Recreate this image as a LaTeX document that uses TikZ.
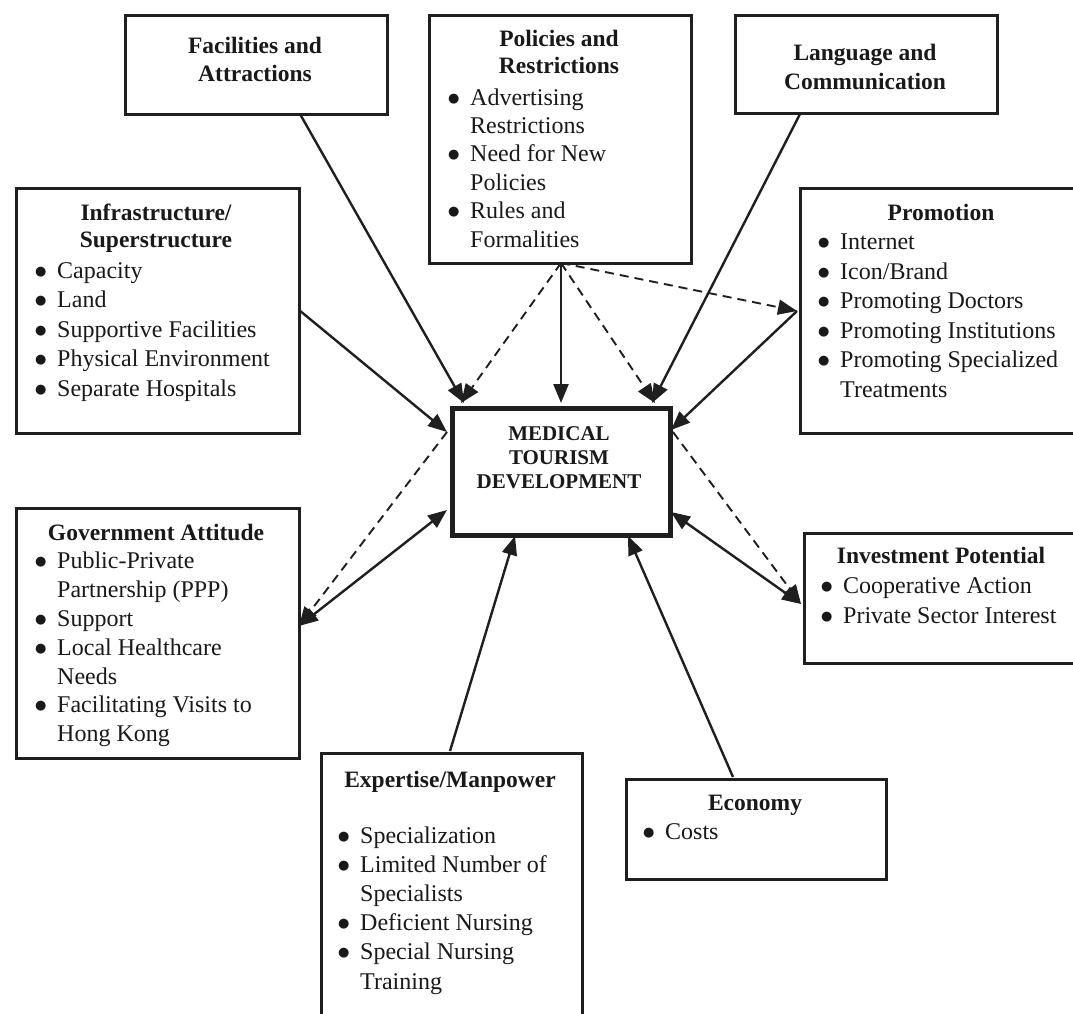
\documentclass[tikz,border=0pt]{standalone}
\usepackage{fontspec}
\setmainfont{Liberation Serif}
\newfontfamily\symf{DejaVu Sans}
\usetikzlibrary{arrows.meta}
\newcommand\bi{\strut\makebox[23pt][l]{\hspace{0.8pt}\raisebox{3pt}{\symf\fontsize{13}{13}\selectfont ●}}}
\newcommand\ci{\strut\hspace*{23pt}}
\begin{document}
\begin{tikzpicture}[x=1pt,y=-1pt,
  box/.style={draw=black!88, line width=2.6pt, inner sep=0pt, anchor=north west},
  ttl/.style={font=\fontsize{23.5}{28}\selectfont\bfseries, align=center, anchor=north, inner sep=0pt, text=black!90},
  lst/.style={font=\fontsize{24}{29.3}\selectfont, align=left, anchor=north west, inner sep=0pt, text=black!90},
  tip/.style={-{Triangle[length=19pt,width=15pt]}},
  conn/.style={line width=2.4pt, draw=black!88, tip},
  dconn/.style={line width=1.9pt, draw=black!88, dash pattern=on 9pt off 6pt, tip},
  both/.style={line width=2.4pt, draw=black!88, {Triangle[length=19pt,width=15pt]}-{Triangle[length=19pt,width=15pt]}},
]
\useasboundingbox (0,0) rectangle (1073,1014);
\clip (0,0) rectangle (1073,1014);
\fill[white] (0,0) rectangle (1073,1014);

% boxes
\node[box, minimum width=262pt, minimum height=99pt] (fac) at (124,14) {};
\node[box, minimum width=262pt, minimum height=248pt] (pol) at (428,14) {};
\node[box, minimum width=262pt, minimum height=98pt] (lang) at (734,14) {};
\node[box, minimum width=283pt, minimum height=245pt] (infra) at (15,187) {};
\node[box, minimum width=284pt, minimum height=245pt] (promo) at (799,187) {};
\node[box, line width=5pt, minimum width=218pt, minimum height=127pt] (mtd) at (450,406) {};
\node[box, minimum width=283pt, minimum height=250pt] (gov) at (15,507) {};
\node[box, minimum width=280pt, minimum height=130pt] (inv) at (803,532) {};
\node[box, minimum width=261pt, minimum height=290pt] (exp) at (320,752) {};
\node[box, minimum width=260pt, minimum height=100pt] (econ) at (625,778) {};

% titles
\node[ttl] (facT) at (255,33.4) {\strut Facilities and\\\strut Attractions};
\node[ttl, font=\fontsize{23.5}{27}\selectfont\bfseries] (polT) at (559,27.6) {\strut Policies and\\\strut Restrictions};
\node[ttl, font=\fontsize{23.5}{29}\selectfont\bfseries] (langT) at (865,40) {\strut Language and\\\strut Communication};
\node[ttl, font=\fontsize{23.5}{27}\selectfont\bfseries] (infraT) at (156,201.6) {\strut Infrastructure/\\\strut Superstructure};
\node[ttl] (promoT) at (941,200.4) {\strut Promotion};
\node[ttl] (govT) at (156,520.4) {\strut Government Attitude};
\node[ttl] (invT) at (941,543.4) {\strut Investment Potential};
\node[ttl] (expT) at (450,767.4) {\strut Expertise/Manpower};
\node[ttl] (econT) at (755,790.4) {\strut Economy};
\node[ttl, font=\fontsize{21}{24}\selectfont\bfseries] (mtdT) at (559,423.2) {\strut MEDICAL\\\strut TOURISM\\\strut DEVELOPMENT};

% lists
\node[lst, font=\fontsize{24}{28.4}\selectfont] (polL) at (447,85) {\bi Advertising\\\ci Restrictions\\\bi Need for New\\\ci Policies\\\bi Rules and\\\ci Formalities};
\node[lst, font=\fontsize{24}{29.5}\selectfont] (infraL) at (34,257.5) {\bi Capacity\\\bi Land\\\bi Supportive Facilities\\\bi Physical Environment\\\bi Separate Hospitals};
\node[lst, font=\fontsize{24}{29.6}\selectfont] (promoL) at (817,228.5) {\bi Internet\\\bi Icon/Brand\\\bi Promoting Doctors\\\bi Promoting Institutions\\\bi Promoting Specialized\\\ci Treatments};
\node[lst, font=\fontsize{24}{28.8}\selectfont] (govL) at (34,548.5) {\bi Public-Private\\\ci Partnership (PPP)\\\bi Support\\\bi Local Healthcare\\\ci Needs\\\bi Facilitating Visits to\\\ci Hong Kong};
\node[lst, font=\fontsize{24}{30}\selectfont] (invL) at (820,572.5) {\bi Cooperative Action\\\bi Private Sector Interest};
\node[lst, font=\fontsize{24}{29.2}\selectfont] (expL) at (337,822.5) {\bi Specialization\\\bi Limited Number of\\\ci Specialists\\\bi Deficient Nursing\\\bi Special Nursing\\\ci Training};
\node[lst] (econL) at (642,818.5) {\bi Costs};

% connector end points
\coordinate (fac-o) at (300,114);
\coordinate (pol-o) at (561,263);
\coordinate (lang-o) at (800,114);
\coordinate (promo-o) at (797,311);
\coordinate (infra-o) at (299,310);
\coordinate (gov-o) at (299,626);
\coordinate (inv-o) at (801,604);
\coordinate (exp-o) at (450,751);
\coordinate (econ-o) at (733,777);
\coordinate (mtd-a) at (464,403);
\coordinate (mtd-b) at (461,403);
\coordinate (mtd-c) at (561,403);
\coordinate (mtd-d) at (655,403);
\coordinate (mtd-e) at (652,403);
\coordinate (mtd-f) at (671,430);
\coordinate (mtd-g) at (447,432);
\coordinate (mtd-h) at (447,510);
\coordinate (mtd-i) at (671,512);
\coordinate (mtd-j) at (673,432);
\coordinate (mtd-k) at (515,536);
\coordinate (mtd-l) at (628,536);

% connectors
\draw[conn] (fac-o) -- (mtd-a);
\draw[conn] (infra-o) -- (mtd-g);
\draw[conn] (pol-o) -- (mtd-c);
\draw[dconn] (pol-o) -- (mtd-b);
\draw[dconn] (pol-o) -- (mtd-d);
\draw[dconn] (pol-o) -- (promo-o);
\draw[conn] (lang-o) -- (mtd-e);
\draw[conn] (promo-o) -- (mtd-f);
\draw[both] (gov-o) -- (mtd-h);
\draw[dconn] (mtd-g) -- (gov-o);
\draw[both] (inv-o) -- (mtd-i);
\draw[dconn] (mtd-j) -- (inv-o);
\draw[conn] (exp-o) -- (mtd-k);
\draw[conn] (econ-o) -- (mtd-l);
\end{tikzpicture}
\end{document}
